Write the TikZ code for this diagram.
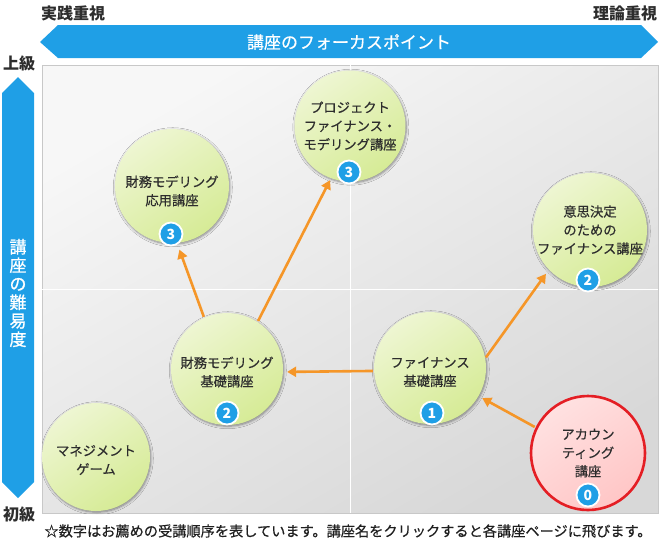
\documentclass[tikz,border=0pt]{standalone}
\usepackage{fontspec}
\setmainfont{Noto Sans CJK JP}
\newfontfamily\jpm[FakeBold=0.45]{Noto Sans CJK JP}
\newfontfamily\jph[FakeBold=0.9]{Noto Sans CJK JP}
\usetikzlibrary{arrows.meta,shadows.blur,calc}
\definecolor{bblue}{RGB}{31,159,230}
\definecolor{cgA}{RGB}{238,246,210}
\definecolor{cgB}{RGB}{214,235,150}
\definecolor{txt}{RGB}{45,45,45}
\definecolor{aorange}{RGB}{245,150,40}
\definecolor{pinkA}{RGB}{255,225,225}
\definecolor{pinkB}{RGB}{255,198,198}
\definecolor{redb}{RGB}{228,30,36}
\definecolor{bgA}{RGB}{247,247,247}
\definecolor{bgB}{RGB}{216,216,216}
\definecolor{bgline}{RGB}{200,200,200}
\tikzset{
  course/.style={circle, minimum size=#1, inner sep=0pt, draw=none,
    top color=cgA, bottom color=cgB, shading angle=35,
    blur shadow={shadow blur steps=6, shadow xshift=0.8pt, shadow yshift=-1.2pt, shadow opacity=45, shadow blur radius=2.5pt}},
  redcourse/.style={circle, minimum size=#1, inner sep=0pt, draw=redb, line width=2.6pt,
    top color=pinkA, bottom color=pinkB, shading angle=35},
  ctext/.style={font=\jpm\fontsize{13.3}{18.5}\selectfont, text=txt, align=center},
  badge/.style={circle, fill=bblue, draw=white, line width=1.8pt, minimum size=23pt,
    inner sep=0pt, text=white, font=\bfseries\fontsize{14}{14}\selectfont},
  flow/.style={draw=aorange, line width=2.6pt, shorten <=1pt, -{Triangle[length=9pt,width=10pt]}},
  axislabel/.style={font=\bfseries\fontsize{16}{16}\selectfont, text=txt},
  bartext/.style={font=\jpm\fontsize{17}{17}\selectfont, text=white},
}
\begin{document}
\begin{tikzpicture}[x=1pt,y=-1pt]
\useasboundingbox (0,0) rectangle (660,550);
% plot area
\shade[top color=bgA, bottom color=bgB, shading angle=30] (42,65) rectangle (658,513);
\draw[bgline, line width=1pt] (42,65) rectangle (658,513);
\draw[white, line width=1pt] (350,65) -- (350,513);
\draw[white, line width=1pt] (42,289) -- (658,289);
% top bar
\fill[bblue] (40,42) -- (58,25) -- (641,25) -- (658,42) -- (641,58) -- (58,58) -- cycle;
\node[bartext] (focus) at (349,42) {講座のフォーカスポイント};
\node[axislabel] (prac) at (73,13) {実践重視};
\node[axislabel] (theo) at (625,13) {理論重視};
% left bar
\fill[bblue] (18,77) -- (34,93) -- (34,482) -- (18,498) -- (2,482) -- (2,93) -- cycle;
\node[text=white, align=center, font=\jph\fontsize{17}{18.5}\selectfont] (diff) at (18,293) {講\\座\\の\\難\\易\\度};
\node[axislabel] (adv) at (19,63) {上級};
\node[axislabel] (beg) at (19,514) {初級};
% courses
\node[course=114pt, label={[ctext, yshift=-5pt]center:{財務モデリング\\応用講座}}] (ouyou) at (172,186) {};
\node[course=111pt, label={[ctext]center:{プロジェクト\\ファイナンス・\\モデリング講座}}] (proj) at (350,126) {};
\node[course=114pt, label={[ctext]center:{意思決定\\のための\\ファイナンス講座}}] (ishi) at (590,230) {};
\node[course=112pt, label={[ctext, yshift=-3pt]center:{財務モデリング\\基礎講座}}] (kiso) at (227,369) {};
\node[course=112pt, label={[ctext, yshift=-4pt]center:{ファイナンス\\基礎講座}}] (fkiso) at (430,368) {};
\node[course=108pt, label={[ctext, yshift=-3pt]center:{マネジメント\\ゲーム}}] (mgmt) at (96,457) {};
\node[redcourse=114pt, label={[ctext]center:{アカウン\\ティング\\講座}}] (acct) at (588,453) {};
% badges
\node[badge] (n1) at (171,234) {3};
\node[badge] (n2) at (349,172) {3};
\node[badge] (n3) at (588,280) {2};
\node[badge] (n4) at (227,413) {2};
\node[badge] (n5) at (432,413) {1};
\node[badge] (n6) at (588,495) {0};
% arrows
\draw[flow, shorten >=7pt] (kiso.114) -- (ouyou.-85);
\draw[flow, shorten >=2pt] (kiso.57) -- (proj.250);
\draw[flow, shorten >=4pt] (fkiso.183) -- (kiso.357);
\draw[flow, shorten >=5pt] (fkiso.10) -- (ishi.224);
\draw[flow, shorten >=4pt] (acct.154) -- (fkiso.-30);
% note
\node[font=\jpm\fontsize{14.2}{14.2}\selectfont, text=black!88] (note) at (348,531) {☆数字はお薦めの受講順序を表しています。講座名をクリックすると各講座ページに飛びます。};
\end{tikzpicture}
\end{document}
